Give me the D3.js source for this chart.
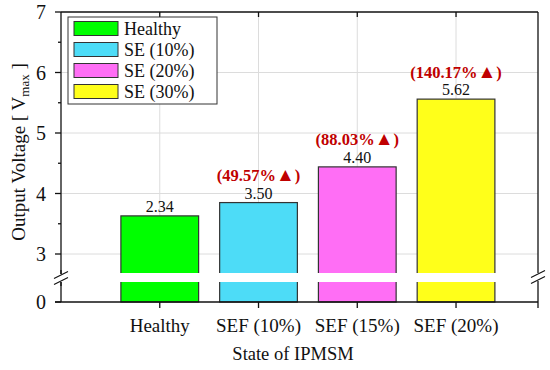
<!DOCTYPE html>
<html><head><meta charset="utf-8">
<script src="https://cdn.jsdelivr.net/npm/d3@7"></script>
<style>body{margin:0;background:#fff}</style>
</head><body>
<script>
const categories = ["Healthy", "SEF (10%)", "SEF (15%)", "SEF (20%)"];
const legendNames = ["Healthy", "SE (10%)", "SE (20%)", "SE (30%)"];
const barHeights = [3.63, 3.85, 4.44, 5.56];
const valueLabels = ["2.34", "3.50", "4.40", "5.62"];
const increaseLabels = ["", "(49.57%▲)", "(88.03%▲)", "(140.17%▲)"];
const colors = ["#00ff00", "#4ddcf7", "#ff6ef5", "#ffff1a"];
const yTicks = [0, 3, 4, 5, 6, 7];
const yMinor = [3.5, 4.5, 5.5, 6.5];

const FONT = "'Liberation Serif', 'Times New Roman', serif";
const W = 550, H = 370;
const m = {l: 61, r: 12, t: 12, b: 68};
const svg = d3.select("body").append("svg").attr("width", W).attr("height", H)
  .attr("font-family", FONT);

const x = d3.scaleLinear().domain([0, 4.83]).range([m.l, W - m.r]);
const y = d3.scaleLinear().domain([0, 3, 7]).range([H - m.b, 254, m.t]);
const bw = 0.787;

// grid
const g = svg.append("g");
g.selectAll(".hg").data([3, 4, 5, 6]).join("line")
  .attr("x1", x(0)).attr("x2", x(4.83)).attr("y1", d => y(d)).attr("y2", d => y(d))
  .attr("stroke", "#dcdcdc").attr("stroke-width", 1);
g.selectAll(".vg").data(categories).join("line")
  .attr("x1", (d, i) => x(i + 1)).attr("x2", (d, i) => x(i + 1))
  .attr("y1", y(7)).attr("y2", y(0))
  .attr("stroke", "#dcdcdc").attr("stroke-width", 1);

// bars
svg.selectAll(".bar").data(barHeights).join("rect")
  .attr("x", (d, i) => x(i + 1 - bw / 2))
  .attr("width", x(bw) - x(0))
  .attr("y", d => y(d))
  .attr("height", d => y(0) - y(d))
  .attr("fill", (d, i) => colors[i])
  .attr("stroke", "#333").attr("stroke-width", 1.2);

// break band
svg.append("rect").attr("x", x(0) + 1).attr("width", x(4.83) - x(0) - 2)
  .attr("y", 273).attr("height", 9).attr("fill", "#fff");

// labels
svg.selectAll(".vl").data(valueLabels).join("text")
  .attr("x", (d, i) => x(i + 1)).attr("y", (d, i) => y(barHeights[i]) - 4)
  .attr("text-anchor", "middle").attr("font-size", 16).attr("fill", "#111").text(d => d);
const il = svg.selectAll(".il").data(increaseLabels).join("text")
  .attr("x", (d, i) => x(i + 1)).attr("y", (d, i) => y(barHeights[i]) - 21.5)
  .attr("text-anchor", "middle").attr("font-size", 16.5).attr("font-weight", "bold")
  .attr("fill", "#c00000");
il.each(function(d) {
  if (!d) return;
  const parts = d.split("▲");
  const t = d3.select(this);
  t.append("tspan").text(parts[0]);
  t.append("tspan").attr("font-size", 19).text("▲");
  t.append("tspan").text(parts[1]);
});

// axes frame
const ax = svg.append("g").attr("stroke", "#111").attr("stroke-width", 1.3);
ax.append("line").attr("x1", x(0)).attr("x2", x(0)).attr("y1", y(7)).attr("y2", y(0));
ax.append("line").attr("x1", x(4.83)).attr("x2", x(4.83)).attr("y1", y(7)).attr("y2", y(0));
ax.append("line").attr("x1", x(0)).attr("x2", x(4.83)).attr("y1", y(7)).attr("y2", y(7));
ax.append("line").attr("x1", x(0) - 6).attr("x2", x(4.83)).attr("y1", y(0)).attr("y2", y(0));

// y ticks
ax.selectAll(".yt").data(yTicks).join("line")
  .attr("x1", x(0) - 6).attr("x2", x(0)).attr("y1", d => y(d)).attr("y2", d => y(d));
ax.selectAll(".ym").data(yMinor).join("line")
  .attr("x1", x(0) - 3).attr("x2", x(0)).attr("y1", d => y(d)).attr("y2", d => y(d));
svg.selectAll(".ytl").data(yTicks).join("text")
  .attr("x", x(0) - 15).attr("y", d => y(d) + 7).attr("text-anchor", "end")
  .attr("font-size", 20).attr("fill", "#111").text(d => d);

// x ticks (bottom outward, top inward)
const xt = [1, 2, 3, 4, 4.83];
ax.selectAll(".xb").data(xt).join("line")
  .attr("x1", d => x(d)).attr("x2", d => x(d)).attr("y1", y(0)).attr("y2", y(0) + 6);
ax.selectAll(".xtt").data([1, 2, 3, 4]).join("line")
  .attr("x1", d => x(d)).attr("x2", d => x(d)).attr("y1", y(7)).attr("y2", y(7) + 5);
svg.selectAll(".xtl").data(categories).join("text")
  .attr("x", (d, i) => x(i + 1)).attr("y", y(0) + 30).attr("text-anchor", "middle")
  .attr("font-size", 19).attr("fill", "#111").text(d => d);

// break marks
function brk(cx, cy) {
  svg.append("rect").attr("x", cx - 4).attr("y", cy - 4).attr("width", 8).attr("height", 8)
    .attr("fill", "#fff");
  const k = svg.append("g").attr("stroke", "#111").attr("stroke-width", 1.2);
  [-3, 3].forEach(o => k.append("line").attr("x1", cx - 7).attr("y1", cy + o + 3.5)
    .attr("x2", cx + 7).attr("y2", cy + o - 3.5));
}
brk(x(0), 278);
brk(x(4.83), 277);
ax.append("line").attr("x1", x(0)).attr("x2", x(0)).attr("y1", 270).attr("y2", 286);

// axis titles
svg.append("text").attr("x", 293).attr("y", H - 10).attr("text-anchor", "middle")
  .attr("font-size", 18.5).attr("fill", "#111").text("State of IPMSM");
const yl = svg.append("text").attr("transform", "translate(25," + 152 + ") rotate(-90)")
  .attr("text-anchor", "middle").attr("font-size", 19).attr("fill", "#111");
yl.append("tspan").text("Output Voltage [ V");
yl.append("tspan").attr("font-size", 13).attr("dy", 4).text("max");
yl.append("tspan").attr("dy", -4).text(" ]");

// legend
const lg = svg.append("g").attr("transform", "translate(68,17)");
lg.append("rect").attr("width", 149).attr("height", 87).attr("fill", "#fff")
  .attr("stroke", "#333").attr("stroke-width", 1);
const items = lg.selectAll(".li").data(legendNames).join("g")
  .attr("transform", (d, i) => "translate(0," + (11 + i * 21) + ")");
items.append("rect").attr("x", 6).attr("y", -6.5).attr("width", 44).attr("height", 14)
  .attr("fill", (d, i) => colors[i]).attr("stroke", "#333").attr("stroke-width", 1);
items.append("text").attr("x", 56).attr("y", 6.5).attr("font-size", 18)
  .attr("fill", "#111").text(d => d);
</script>
</body></html>
